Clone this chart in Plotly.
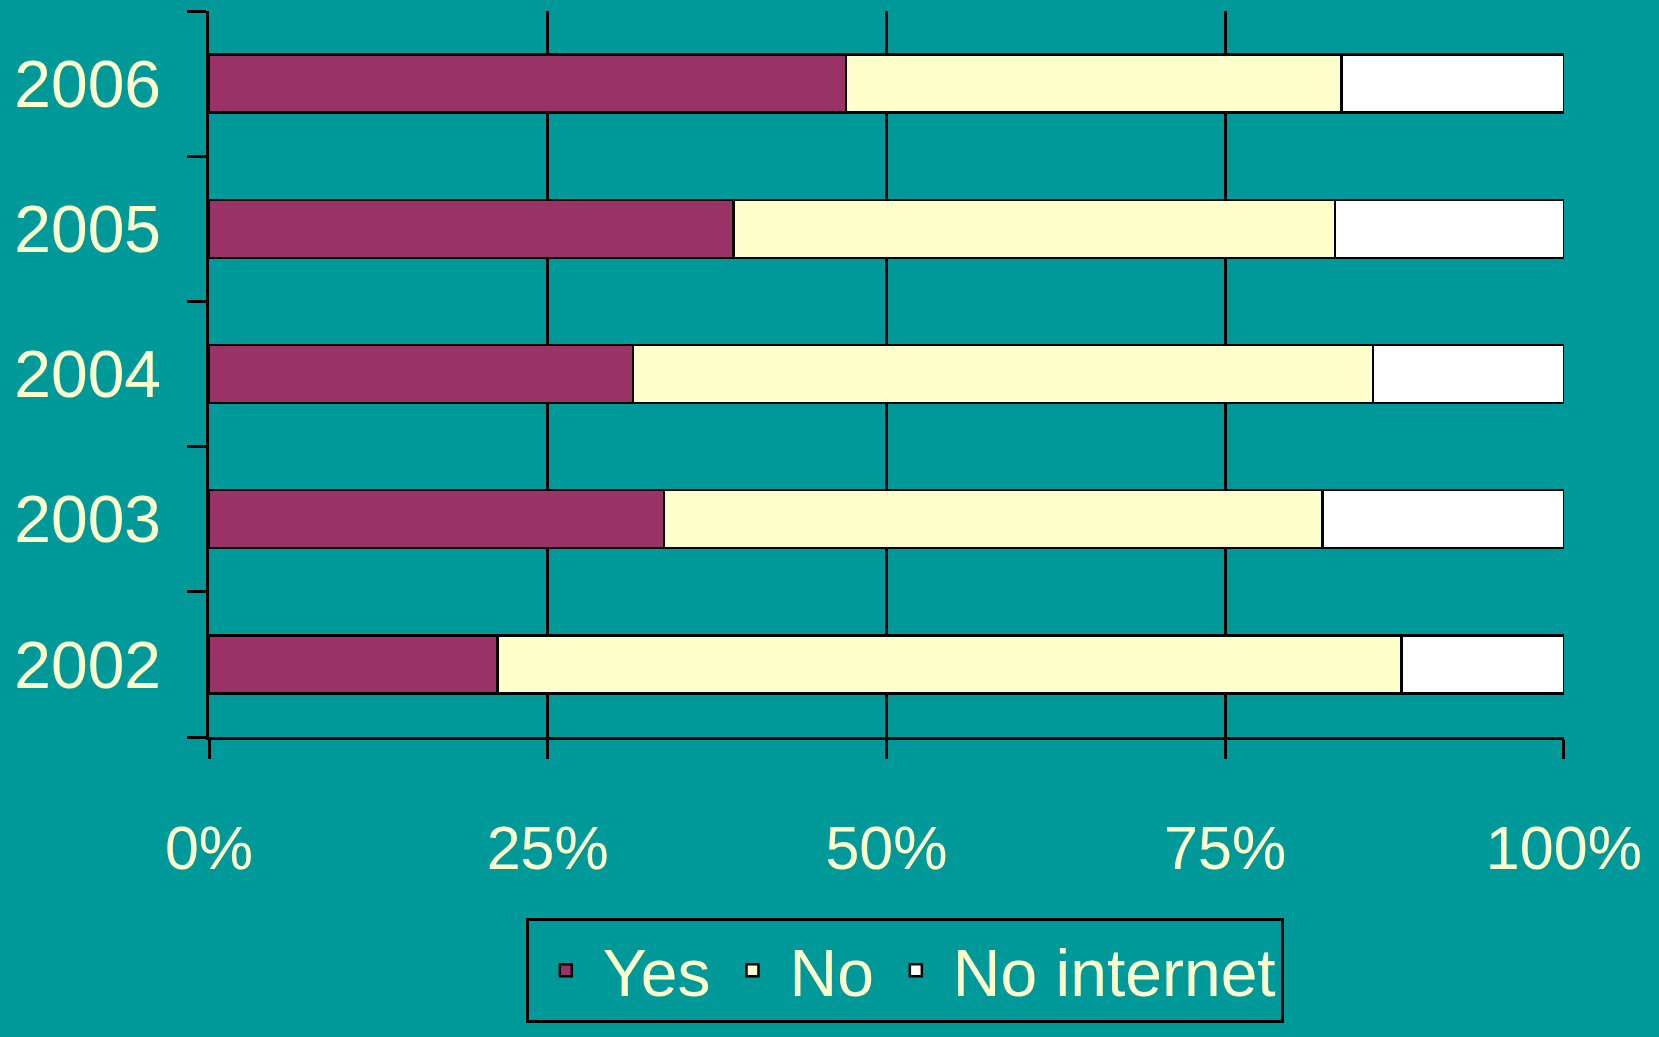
import plotly.graph_objects as go

years = ["2002", "2003", "2004", "2005", "2006"]
yes_vals = [21.3, 33.6, 31.3, 38.7, 47.0]
no_vals = [66.7, 48.6, 54.6, 44.4, 36.6]
no_internet_vals = [12.0, 17.8, 14.1, 16.9, 16.4]
series_names = ["Yes", "No", "No internet"]
series_colors = ["#993366", "#FFFFCC", "#FFFFFF"]
x_ticks = [0, 25, 50, 75, 100]

BG = "#009999"
TXT = "#FFFFCC"
FONT = "Liberation Sans, Arial, sans-serif"

fig = go.Figure()
for name, vals, col in zip(series_names, [yes_vals, no_vals, no_internet_vals], series_colors):
    fig.add_trace(go.Bar(
        y=years, x=vals, name=name, orientation="h",
        marker=dict(color=col, line=dict(color="black", width=2.5)),
    ))

fig.update_layout(
    barmode="stack",
    bargap=0.6,
    width=1659, height=1037,
    paper_bgcolor=BG, plot_bgcolor=BG,
    margin=dict(l=209, r=95, t=11, b=300, autoexpand=False),
    font=dict(family=FONT, color=TXT, size=60),
    showlegend=True,
    legend=dict(
        orientation="h",
        x=0.5135, xanchor="center",
        y=-0.249, yanchor="top",
        bgcolor=BG, bordercolor="black", borderwidth=3,
        font=dict(size=66, color=TXT, family=FONT),
        traceorder="normal",
        itemwidth=64,
    ),
    xaxis=dict(
        range=[0, 100.01],
        tickvals=x_ticks,
        ticktext=[f"{v}%" for v in x_ticks],
        showgrid=True, gridcolor="black", gridwidth=2.5,
        zeroline=False,
        showline=True, linecolor="black", linewidth=2.5,
        ticks="outside", ticklen=19, tickwidth=2.5, tickcolor="black",
        tickfont=dict(size=61, color=TXT, family=FONT),
        ticklabelstandoff=37,
        fixedrange=True,
    ),
    yaxis=dict(
        type="category",
        categoryorder="array", categoryarray=years,
        showgrid=False, zeroline=False,
        showline=True, linecolor="black", linewidth=2.5,
        ticks="outside", tickson="boundaries", ticklen=19, tickwidth=2.5, tickcolor="black",
        tickfont=dict(size=66, color=TXT, family=FONT),
        ticklabelstandoff=32,
        fixedrange=True,
    ),
)

fig.write_html(
    "out.html",
    config={"displayModeBar": False},
    post_script="document.body.style.margin='0';document.body.style.background='#009999';",
)
